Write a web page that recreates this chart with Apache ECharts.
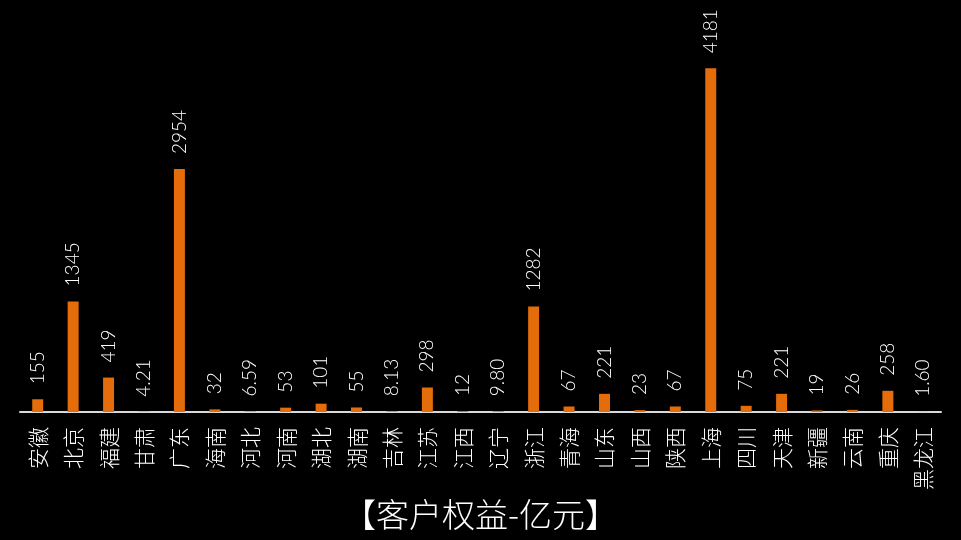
<!DOCTYPE html>
<html><head><meta charset="utf-8">
<script src="https://cdn.jsdelivr.net/npm/echarts@6/dist/echarts.min.js"></script>
<style>html,body{margin:0;padding:0;background:#000;}#c{width:961px;height:540px;}</style>
</head><body><div id="c"></div>
<script>
var categories = ['安徽','北京','福建','甘肃','广东','海南','河北','河南','湖北','湖南','吉林','江苏','江西','辽宁','浙江','青海','山东','山西','陕西','上海','四川','天津','新疆','云南','重庆','黑龙江'];
var values = [155,1345,419,4.21,2954,32,6.59,53,101,55,8.13,298,12,9.80,1282,67,221,23,67,4181,75,221,19,26,258,1.60];
var titleText = '【客户权益-亿元】';

var chart = echarts.init(document.getElementById('c'));
chart.setOption({
  backgroundColor: '#000',
  animation: false,
  title: {
    text: titleText, left: 'center', top: 493,
    textStyle: {color: '#fff', fontSize: 33, fontWeight: 300, fontFamily: 'Noto Sans CJK SC'}
  },
  grid: {left: 20, right: 20, top: 42, bottom: 128},
  xAxis: {
    type: 'category', data: categories,
    axisLine: {lineStyle: {color: '#d9d9d9', width: 2}},
    axisTick: {show: false},
    axisLabel: {rotate: 90, color: '#fff', fontSize: 21, fontWeight: 300, margin: 15, interval: 0, fontFamily: 'Noto Sans CJK SC'}
  },
  yAxis: {type: 'value', min: 0, max: 4500, show: false, splitLine: {show: false}},
  series: [{
    type: 'bar', data: values, barWidth: 11,
    itemStyle: {color: '#E46C0A'},
    label: {
      show: true, position: 'top', rotate: 90, align: 'left', verticalAlign: 'middle', distance: 15,
      color: '#fff', fontSize: 19, fontFamily: 'Lato', fontWeight: 300,
      formatter: function(p){ return p.value < 10 ? p.value.toFixed(2) : String(p.value); }
    }
  }]
});
</script></body></html>
